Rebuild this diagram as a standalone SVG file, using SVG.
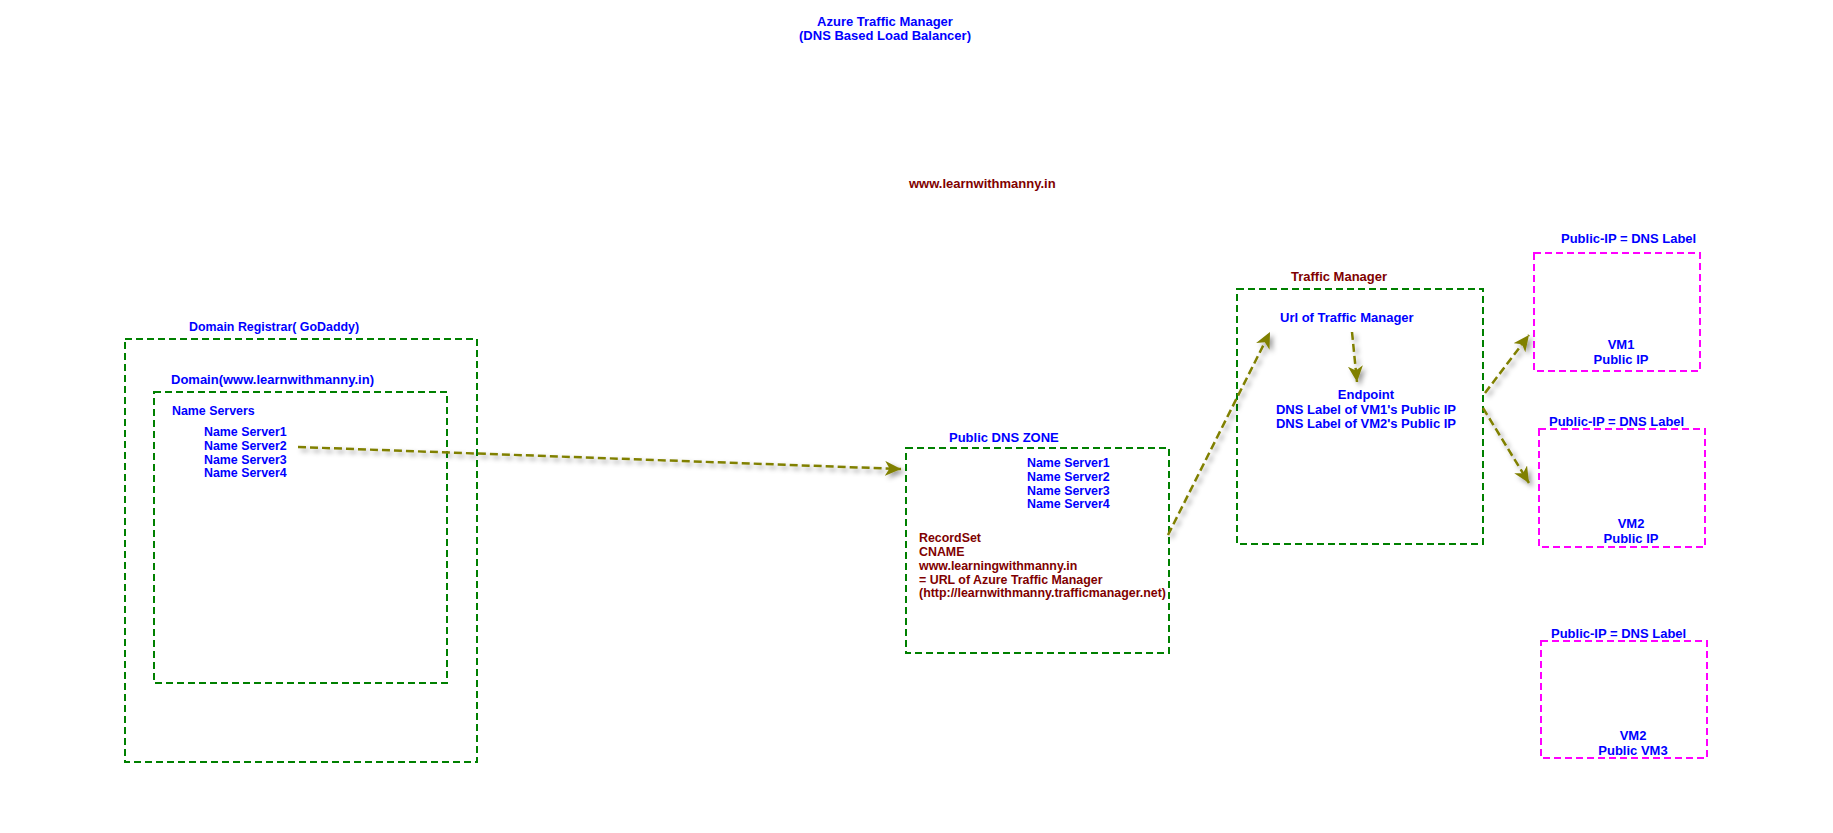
<svg xmlns="http://www.w3.org/2000/svg" width="1833" height="833" viewBox="0 0 1833 833">
  <style>
    text { font-family: "Liberation Sans", Arial, sans-serif; font-weight: bold; }
    .b { fill: #0000ff; }
    .r { fill: #800000; }
    .s12 { font-size: 12.4px; }
    .s13 { font-size: 13px; }
    .mid { text-anchor: middle; }
    .gbox { fill: none; stroke: #008000; stroke-width: 2; stroke-dasharray: 7 4; }
    .mbox { fill: none; stroke: #ff00ff; stroke-width: 2; stroke-dasharray: 7 4; }
    .conn { fill: none; stroke: #808000; stroke-width: 2.5; stroke-dasharray: 8 4; marker-end: url(#arrow); }
  </style>
  <defs>
    <marker id="arrow" markerUnits="userSpaceOnUse" markerWidth="20" markerHeight="16" refX="16" refY="7.5" orient="auto">
      <path d="M0,0 L16,7.5 L0,15 L4.5,7.5 Z" fill="#808000"/>
    </marker>
    <filter id="shadow" x="-20%" y="-20%" width="140%" height="140%">
      <feDropShadow dx="3" dy="3" stdDeviation="2.5" flood-color="#000000" flood-opacity="0.4"/>
    </filter>
  </defs>
  <rect width="1833" height="833" fill="#ffffff"/>

  <g id="title">
    <text class="b s13 mid" x="885" y="26">Azure Traffic Manager</text>
    <text class="b s13 mid" x="885" y="40">(DNS Based Load Balancer)</text>
  </g>
  <g id="site">
    <text class="r s13" x="909" y="188">www.learnwithmanny.in</text>
  </g>

  <g id="registrar">
    <rect class="gbox" x="125" y="339" width="352" height="423"/>
    <text class="b s12" x="189" y="331">Domain Registrar( GoDaddy)</text>
  </g>
  <g id="domain">
    <rect class="gbox" x="154" y="392" width="293" height="291"/>
    <text class="b s13" x="171" y="384">Domain(www.learnwithmanny.in)</text>
    <text class="b s12" x="172" y="415">Name Servers</text>
    <text class="b s12" x="204" y="436">Name Server1</text>
    <text class="b s12" x="204" y="450">Name Server2</text>
    <text class="b s12" x="204" y="463.5">Name Server3</text>
    <text class="b s12" x="204" y="477">Name Server4</text>
  </g>

  <g id="dnszone">
    <rect class="gbox" x="906" y="448" width="263" height="205"/>
    <text class="b s13" x="949" y="442">Public DNS ZONE</text>
    <text class="b s12" x="1027" y="467">Name Server1</text>
    <text class="b s12" x="1027" y="481">Name Server2</text>
    <text class="b s12" x="1027" y="494.5">Name Server3</text>
    <text class="b s12" x="1027" y="508">Name Server4</text>
    <text class="r s12" x="919" y="542">RecordSet</text>
    <text class="r s12" x="919" y="556">CNAME</text>
    <text class="r s12" x="919" y="570">www.learningwithmanny.in</text>
    <text class="r s12" x="919" y="583.5">= URL of Azure Traffic Manager</text>
    <text class="r s12" x="919" y="597">(http://learnwithmanny.trafficmanager.net)</text>
  </g>

  <g id="trafficmanager">
    <rect class="gbox" x="1237" y="289" width="246" height="255"/>
    <text class="r s13" x="1291" y="281">Traffic Manager</text>
    <text class="b s13" x="1280" y="322">Url of Traffic Manager</text>
    <text class="b s13 mid" x="1366" y="399">Endpoint</text>
    <text class="b s13 mid" x="1366" y="414">DNS Label of VM1's Public IP</text>
    <text class="b s13 mid" x="1366" y="428">DNS Label of VM2's Public IP</text>
  </g>

  <g id="vm1">
    <rect class="mbox" x="1534" y="253" width="166" height="118"/>
    <text class="b s13" x="1561" y="243">Public-IP = DNS Label</text>
    <text class="b s13 mid" x="1621" y="349">VM1</text>
    <text class="b s13 mid" x="1621" y="364">Public IP</text>
  </g>
  <g id="vm2">
    <rect class="mbox" x="1539" y="429" width="166" height="118"/>
    <text class="b s13" x="1549" y="426">Public-IP = DNS Label</text>
    <text class="b s13 mid" x="1631" y="528">VM2</text>
    <text class="b s13 mid" x="1631" y="543">Public IP</text>
  </g>
  <g id="vm3">
    <rect class="mbox" x="1541" y="641" width="166" height="117"/>
    <text class="b s13" x="1551" y="638">Public-IP = DNS Label</text>
    <text class="b s13 mid" x="1633" y="740">VM2</text>
    <text class="b s13 mid" x="1633" y="755">Public VM3</text>
  </g>

  <g id="connectors" filter="url(#shadow)">
    <line class="conn" x1="298" y1="447" x2="901" y2="469"/>
    <line class="conn" x1="1168" y1="535" x2="1270" y2="332"/>
    <line class="conn" x1="1352" y1="332" x2="1357" y2="382"/>
    <line class="conn" x1="1485" y1="393" x2="1529" y2="335"/>
    <line class="conn" x1="1483" y1="408" x2="1529" y2="483"/>
  </g>
</svg>
